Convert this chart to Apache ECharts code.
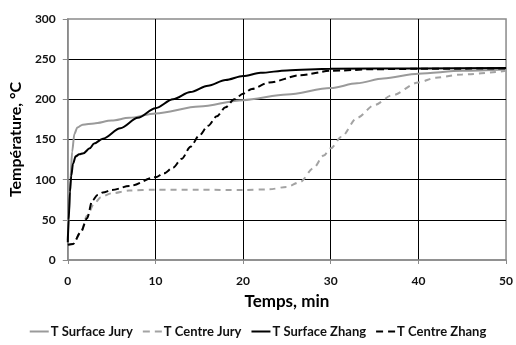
<!DOCTYPE html>
<html>
<head>
<meta charset="utf-8">
<script src="https://cdn.jsdelivr.net/npm/echarts@6/dist/echarts.min.js"></script>
<style>
html,body{margin:0;padding:0;background:#fff;}
#chart{width:516px;height:345px;}
</style>
</head>
<body>
<div id="chart"></div>
<script>
// Time (min) and temperature (°C) samples
var seriesNames = ['T Surface Jury', 'T Centre Jury', 'T Surface Zhang', 'T Centre Zhang'];

var surfaceJuryT = [0, 0.15, 0.3, 0.5, 0.75, 1.1, 1.7, 3, 5, 7, 10, 15, 20, 25, 30, 33, 36, 40, 45, 50];
var surfaceJuryV = [25, 60, 100, 135, 157, 165, 168.5, 170, 173.5, 177, 182.5, 191, 199, 206, 214, 220, 226, 232, 235.5, 237];

var centreJuryT = [0, 0.6, 1.5, 2.2, 3, 3.8, 5, 7, 10, 15, 20, 23, 25, 26.5, 28, 29.2, 30, 31.2, 33, 35, 37, 40, 42, 45, 50];
var centreJuryV = [19, 20, 35, 55, 70, 78.5, 83, 86.5, 87.5, 87.5, 87, 88, 91, 97, 114, 130, 139, 153, 177, 193, 205, 221, 227, 231, 235.5];

var surfaceZhangT = [0, 0.1, 0.25, 0.4, 0.6, 0.9, 1.3, 1.8, 2.5, 3, 4, 6, 8, 10, 12, 14, 16, 18, 20, 22, 25, 30, 40, 50];
var surfaceZhangV = [22, 50, 85, 105, 120, 129, 131.5, 133, 139, 145, 151, 164, 177, 189, 200, 209, 217, 224, 229, 233, 236, 238, 238.5, 239];

var centreZhangT = [0, 0.6, 1.5, 2.2, 2.8, 3.4, 4, 5, 7, 10, 11, 12, 13, 14, 15, 16, 17, 18, 19, 20, 21, 23, 26.5, 30, 35, 40, 50];
var centreZhangV = [19, 20, 35, 52, 74, 81, 84, 87, 92, 103, 108, 115, 126, 141, 155, 167, 179, 190, 200, 207, 213, 221, 230, 235.5, 237.5, 238, 238.5];

var xTicks = [0, 10, 20, 30, 40, 50];
var yTicks = [0, 50, 100, 150, 200, 250, 300];

function zip(t, v) { return t.map(function (x, i) { return [x, v[i]]; }); }

var FONT = 'Lato';
var SOLID_ICON = 'path://M0 0h19v2H0z';
var DASH_ICON = 'path://M0 0h7v2H0zM12 0h7v2h-7z';
var chart = echarts.init(document.getElementById('chart'), null, {renderer: 'canvas'});

function lineSeries(name, t, v, color, dash, z) {
  return {
    name: name,
    type: 'line',
    data: zip(t, v),
    symbol: 'none',
    showSymbol: false,
    smooth: 0.3,
    smoothMonotone: 'x',
    z: z,
    lineStyle: {color: color, width: 2, type: dash},
    itemStyle: {color: color}
  };
}

chart.setOption({
  animation: false,
  backgroundColor: '#ffffff',
  grid: {left: 66, right: 6, top: 19, bottom: 85, show: true, borderColor: '#8a8a8a', borderWidth: 1.5, backgroundColor: 'transparent'},
  xAxis: {
    type: 'value', min: xTicks[0], max: xTicks[xTicks.length - 1], interval: 10,
    name: 'Temps, min', nameLocation: 'middle', nameGap: 33,
    nameTextStyle: {fontFamily: FONT, fontWeight: 'bold', fontSize: 17, color: '#000'},
    axisLine: {show: true, lineStyle: {color: '#8a8a8a', width: 1.5}},
    axisTick: {show: true, length: 4, lineStyle: {color: '#8a8a8a'}},
    axisLabel: {fontFamily: FONT, fontWeight: 'bold', fontSize: 12, color: '#111', margin: 15},
    splitLine: {show: true, showMinLine: false, showMaxLine: false, lineStyle: {color: '#000', width: 1}}
  },
  yAxis: {
    type: 'value', min: yTicks[0], max: yTicks[yTicks.length - 1], interval: 50,
    name: 'Température, °C', nameLocation: 'middle', nameGap: 38,
    nameTextStyle: {fontFamily: FONT, fontWeight: 'bold', fontSize: 16, color: '#000'},
    axisLine: {show: true, lineStyle: {color: '#8a8a8a', width: 1.5}},
    axisTick: {show: true, length: 5, lineStyle: {color: '#8a8a8a'}},
    axisLabel: {fontFamily: FONT, fontWeight: 'bold', fontSize: 12, color: '#111', margin: 12},
    splitLine: {show: true, showMinLine: false, showMaxLine: false, lineStyle: {color: '#000', width: 1}}
  },
  legend: {
    data: [
      {name: seriesNames[0], icon: SOLID_ICON},
      {name: seriesNames[1], icon: DASH_ICON},
      {name: seriesNames[2], icon: SOLID_ICON},
      {name: seriesNames[3], icon: DASH_ICON}
    ],
    left: 'center', top: 320,
    itemWidth: 19, itemHeight: 2, itemGap: 10,
    textStyle: {fontFamily: FONT, fontWeight: 'bold', fontSize: 13, color: '#111', padding: [0, 0, 0, -3]}
  },
  series: [
    lineSeries(seriesNames[0], surfaceJuryT, surfaceJuryV, '#9a9a9a', 'solid', 2),
    lineSeries(seriesNames[1], centreJuryT, centreJuryV, '#a3a3a3', [6, 5], 2),
    lineSeries(seriesNames[2], surfaceZhangT, surfaceZhangV, '#000000', 'solid', 3),
    lineSeries(seriesNames[3], centreZhangT, centreZhangV, '#000000', [7, 4], 3)
  ]
});
</script>
</body>
</html>
